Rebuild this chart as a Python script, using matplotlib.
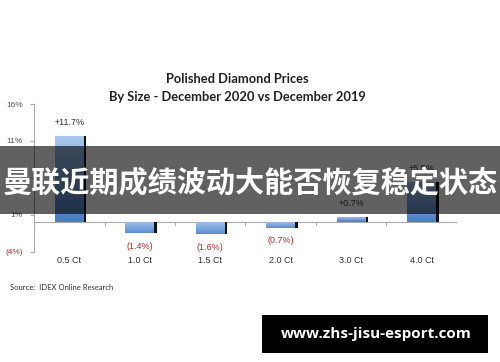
import matplotlib.pyplot as plt
import numpy as np
from matplotlib.patches import Rectangle
from matplotlib.colors import LinearSegmentedColormap

sizes = ["0.5 Ct", "1.0 Ct", "1.5 Ct", "2.0 Ct", "3.0 Ct", "4.0 Ct"]
changes = [11.7, -1.4, -1.6, -0.7, 0.7, 5.5]
value_labels = ["+11.7%", "(1.4%)", "(1.6%)", "(0.7%)", "+0.7%", "+5.5%"]
yticks = [-4, 1, 6, 11, 16]
ytick_labels = ["(4%)", "1%", "", "11%", "16%"]  # 6% is hidden under the banner

plt.rcParams['font.family'] = ['Liberation Sans', 'DejaVu Sans']

fig = plt.figure(figsize=(5, 3.62), dpi=100)
ax = fig.add_axes([0.068, 0.3039, 0.846, 0.4088])

x = np.arange(len(sizes))
w = 0.41
pos_cmap = LinearSegmentedColormap.from_list("pos", ["#4a7cc4", "#a9c8ef"])
neg_cmap = LinearSegmentedColormap.from_list("neg", ["#5b8dd3", "#9ec0ea"])

# shadows
ax.bar(x + 0.035, changes, w, bottom=0, color="#111111", zorder=2)
bars = ax.bar(x, changes, w, color="none", zorder=3)
grad = np.linspace(0, 1, 64).reshape(-1, 1)
for b, v in zip(bars, changes):
    x0 = b.get_x()
    y0, y1 = sorted([0, v])
    cm = pos_cmap if v > 0 else neg_cmap
    im = ax.imshow(grad, extent=[x0, x0 + w, y0, y1], origin="lower",
                   cmap=cm, aspect="auto", zorder=3)
    im.set_clip_path(b)

for i, (v, lab) in enumerate(zip(changes, value_labels)):
    if v > 0:
        ax.text(i, v + 1.2, lab, ha="center", va="bottom", fontsize=6.5, color="#333333")
    else:
        ax.text(i, v - 1.2, lab, ha="center", va="top", fontsize=6.5, color="#a8322d")

ax.set_xlim(-0.5, 5.5)
ax.set_ylim(-4, 16)
ax.set_yticks(yticks)
ax.set_yticklabels(ytick_labels, fontsize=6, color="#555555")
ax.get_yticklabels()[0].set_color("#a8322d")
ax.tick_params(axis="y", length=3, color="#aaaaaa", pad=5)
ax.set_xticks([])
for s in ["top", "right", "bottom"]:
    ax.spines[s].set_visible(False)
ax.spines["left"].set_color("#aaaaaa")
ax.axhline(0, color="#aaaaaa", lw=0.8, zorder=1)
for t in np.arange(-0.5, 6, 1):
    ax.plot([t, t], [0, -0.35], color="#aaaaaa", lw=0.8, zorder=1)
for i, s in enumerate(sizes):
    ax.text(i, -5.1, s, ha="center", va="center", fontsize=6.5, color="#333333", clip_on=False)

fig.text(0.474, 0.783, "Polished Diamond Prices", ha="center", va="center",
         fontsize=9.3, fontweight="bold", family="Lato", color="#222222")
fig.text(0.474, 0.731, "By Size - December 2020 vs December 2019", ha="center", va="center",
         fontsize=9.3, fontweight="bold", family="Lato", color="#222222")
fig.text(0.02, 0.207, "Source:  IDEX Online Research", ha="left", va="center",
         fontsize=5.5, family="Lato", color="#333333")

# overlay banner
fig.patches.append(Rectangle((0, 0.4088), 1, 0.1878, transform=fig.transFigure,
                             facecolor="black", alpha=0.62, zorder=10))
fig.text(0.5, 0.497, "曼联近期成绩波动大能否恢复稳定状态", ha="center", va="center",
         fontsize=21, fontweight="bold", color="white", zorder=11,
         family=["Noto Sans CJK SC", "DejaVu Sans"])

fig.patches.append(Rectangle((0.524, 0.0249), 0.452, 0.105, transform=fig.transFigure,
                             facecolor="black", zorder=10))
fig.text(0.752, 0.077, "www.zhs-jisu-esport.com", ha="center", va="center",
         fontsize=11, fontweight="bold", color="white", family="Open Sans", zorder=11)

fig.savefig("out.png", dpi=100)
